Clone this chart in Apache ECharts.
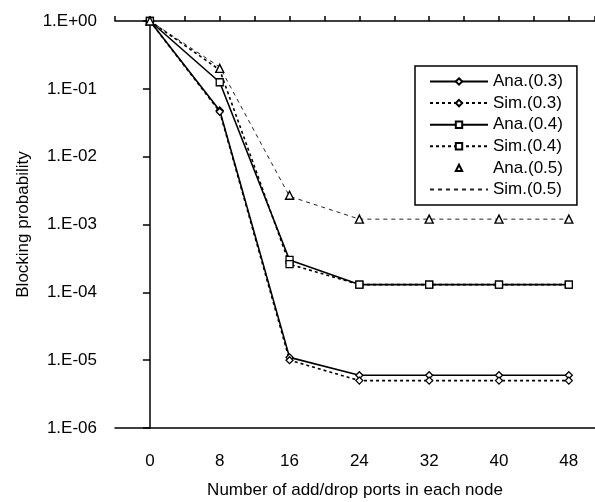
<!DOCTYPE html>
<html>
<head>
<meta charset="utf-8">
<script src="https://cdn.jsdelivr.net/npm/echarts@6/dist/echarts.min.js"></script>
<style>
  html, body { margin: 0; padding: 0; background: #fff; }
  #chart { width: 595px; height: 502px; }
</style>
</head>
<body>
<div id="chart"></div>
<script>
// x positions: number of add/drop ports per node
const ports = [0, 8, 16, 24, 32, 40, 48]

// blocking probabilities
const ana03 = [1, 0.048, 1.1e-5, 6.0e-6, 6.0e-6, 6.0e-6, 6.0e-6]
const sim03 = [1, 0.046, 1.0e-5, 5.0e-6, 5.0e-6, 5.0e-6, 5.0e-6]
const ana04 = [1, 0.125, 3.0e-4, 1.3e-4, 1.3e-4, 1.3e-4, 1.3e-4]
const sim04 = [1, 0.19, 2.6e-4, 1.3e-4, 1.3e-4, 1.3e-4, 1.3e-4]
const ana05 = [1, 0.2, 2.7e-3, 1.2e-3, 1.2e-3, 1.2e-3, 1.2e-3]
const sim05 = [1, 0.21, 2.6e-3, 1.2e-3, 1.2e-3, 1.2e-3, 1.2e-3]

const seriesNames = ['Ana.(0.3)', 'Sim.(0.3)', 'Ana.(0.4)', 'Sim.(0.4)', 'Ana.(0.5)', 'Sim.(0.5)']

const FONT = 'Liberation Sans, Arial, sans-serif'

// [x, y] pairs; points listed in `bare` get no marker (hidden under another one in the original)
const pairs = (vals, bare = []) =>
  ports.map((p, i) => (bare.includes(i) ? { value: [p, vals[i]], symbol: 'none' } : [p, vals[i]]))

// 1 -> "1.E+00", 0.001 -> "1.E-03"
function sciLabel(v) {
  const e = Math.round(Math.log10(v))
  const sign = e < 0 ? '-' : '+'
  return '1.E' + sign + String(Math.abs(e)).padStart(2, '0')
}

const chart = echarts.init(document.getElementById('chart'))

const lineSeries = (name, data, symbol, dash) => ({
  name,
  type: 'line',
  data,
  symbol,
  symbolSize: 7,
  color: '#000',
  itemStyle: { color: '#fff', borderColor: '#000', borderWidth: 1.3 },
  lineStyle: { color: '#000', width: 1.6, type: dash },
  emphasis: { disabled: true }
})

const option = {
  backgroundColor: '#fff',
  animation: false,
  grid: { left: 115, right: 0, top: 21, bottom: 74, outerBoundsMode: 'none', containLabel: false },
  legend: {
    orient: 'vertical',
    left: 415,
    top: 66,
    padding: [7, 14, 7, 14],
    itemGap: 4.6,
    itemWidth: 58,
    itemHeight: 8,
    borderColor: '#000',
    borderWidth: 1.5,
    backgroundColor: '#fff',
    selectedMode: false,
    textStyle: { fontFamily: FONT, fontSize: 17, color: '#000' },
    data: seriesNames.map(n => (n === 'Sim.(0.5)' ? { name: n, itemStyle: { opacity: 0 } } : n))
  },
  xAxis: [
    {
      type: 'value',
      min: -4,
      max: 51,
      interval: 4,
      position: 'bottom',
      name: 'Number of add/drop ports in each node',
      nameLocation: 'middle',
      nameGap: 54,
      nameTextStyle: { fontFamily: FONT, fontSize: 17, color: '#000' },
      axisLine: { show: true, onZero: false, lineStyle: { color: '#000', width: 1.5 } },
      axisTick: { show: false },
      splitLine: { show: false },
      axisLabel: {
        fontFamily: FONT,
        fontSize: 17,
        color: '#000',
        margin: 25,
        showMaxLabel: false,
        formatter: v => (ports.includes(v) ? String(v) : '')
      }
    },
    {
      // mirror axis along the top with short ticks; inward ticks never rendered,
      // so they sit on the outer side, and the labels stay (transparent) to keep them
      type: 'value',
      min: -4,
      max: 51,
      interval: 4,
      position: 'top',
      axisLine: { show: true, onZero: false, lineStyle: { color: '#000', width: 1.5 } },
      axisTick: { show: true, inside: false, length: 5, lineStyle: { color: '#000', width: 1.5 } },
      axisLabel: { show: true, color: 'rgba(0,0,0,0)', fontSize: 8 },
      splitLine: { show: false }
    }
  ],
  yAxis: {
    type: 'log',
    logBase: 10,
    min: 1e-6,
    max: 1,
    name: 'Blocking probability',
    nameLocation: 'middle',
    nameGap: 82,
    nameTextStyle: { fontFamily: FONT, fontSize: 17, color: '#000' },
    axisLine: { show: true, lineStyle: { color: '#000', width: 1.5 } },
    axisTick: { show: true, length: 7, lineStyle: { color: '#000', width: 1.5 } },
    minorTick: { show: false },
    splitLine: { show: false },
    axisLabel: { fontFamily: FONT, fontSize: 17, color: '#000', margin: 18, formatter: sciLabel }
  },
  series: [
    lineSeries(seriesNames[0], pairs(ana03), 'diamond', 'solid'),
    lineSeries(seriesNames[1], pairs(sim03), 'diamond', [3, 3]),
    lineSeries(seriesNames[2], pairs(ana04), 'rect', 'solid'),
    lineSeries(seriesNames[3], pairs(sim04, [1]), 'rect', [3, 3]),
    {
      // markers only; bound to the top axis (same scale) so that axis is drawn with ticks
      name: seriesNames[4],
      type: 'line',
      xAxisIndex: 1,
      data: pairs(ana05),
      symbol: 'triangle',
      symbolSize: 8,
      color: '#000',
      itemStyle: { color: '#fff', borderColor: '#000', borderWidth: 1.4 },
      lineStyle: { opacity: 0, width: 0 },
      emphasis: { disabled: true }
    },
    {
      name: seriesNames[5],
      type: 'line',
      data: pairs(sim05),
      symbol: 'none',
      color: '#222',
      lineStyle: { color: '#222', width: 1, type: [4, 4] },
      emphasis: { disabled: true }
    }
  ]
}

chart.setOption(option)
</script>
</body>
</html>
